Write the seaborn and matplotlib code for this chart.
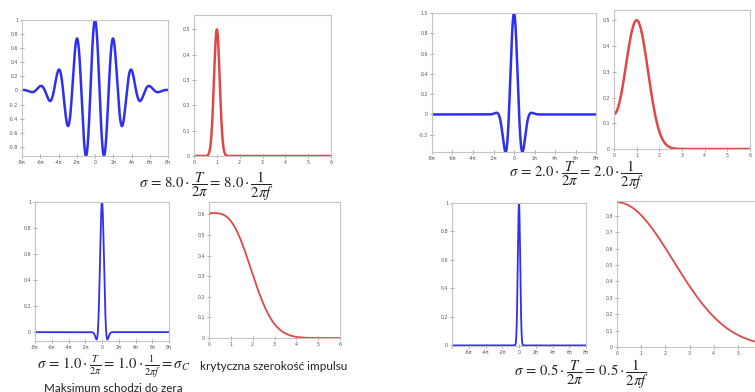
import numpy as np
import matplotlib
matplotlib.use("Agg")
import matplotlib.pyplot as plt
from matplotlib.ticker import FixedLocator, AutoMinorLocator, FixedFormatter
import seaborn as sns

sns.set_style("white")
plt.rcParams["font.family"] = ["DejaVu Sans"]
plt.rcParams["mathtext.fontset"] = "stix"

W, H = 755, 392

# Gaussian-windowed cosine pulses: width parameter of each panel pair
sigmas = [8.0, 2.0, 1.0, 0.5]

# axis boxes in figure pixels (left, top, right, bottom)
time_boxes = [(22, 20, 168, 156), (432, 13, 596, 152), (35, 202, 169, 341), (452, 203, 586, 346)]
freq_boxes = [(194, 15, 331, 156), (614, 10, 750, 149), (209, 202, 340, 338), (617, 201, 762, 347)]

time_ylims = [(-0.93, 1.0), (-0.37, 1.0), (-0.068, 1.0), (-0.004, 1.0)]
freq_ylims = [(0, 0.557), (0, 0.54), (0, 0.66), (0, 0.89)]

time_yticks = [
    [-0.8, -0.6, -0.4, -0.2, 0, 0.2, 0.4, 0.6, 0.8, 1],
    [-0.2, 0, 0.2, 0.4, 0.6, 0.8, 1.0],
    [0, 0.2, 0.4, 0.6, 0.8, 1],
    [0, 0.2, 0.4, 0.6, 0.8, 1],
]
time_ylabels = [
    ["-0.8", "-0.6", "-0.4", "-0.2", "0", "0.2", "0.4", "0.6", "0.8", "1"],
    ["-0.2", "0", "0.2", "0.4", "0.6", "0.8", "1.0"],
    ["0", "0.2", "0.4", "0.6", "0.8", "1"],
    ["0", "0.2", "0.4", "0.6", "0.8", "1"],
]
freq_yticks = [
    [0, 0.1, 0.2, 0.3, 0.4, 0.5],
    [0, 0.1, 0.2, 0.3, 0.4, 0.5],
    [0, 0.1, 0.2, 0.3, 0.4, 0.5, 0.6],
    [0, 0.1, 0.2, 0.3, 0.4, 0.5, 0.6, 0.7, 0.8],
]

time_xmult = [-4, -3, -2, -1, 0, 1, 2, 3, 4]
time_xlabels = ["-8π", "-6π", "-4π", "-2π", "0", "2π", "4π", "6π", "8π"]
freq_xticks = [0, 1, 2, 3, 4, 5, 6]

captions = [
    (r"$\sigma\,=\,8.0\cdot\dfrac{T}{2\pi}=\,8.0\cdot\dfrac{1}{2\pi f}$", 206, 186),
    (r"$\sigma\,=\,2.0\cdot\dfrac{T}{2\pi}=\,2.0\cdot\dfrac{1}{2\pi f}$", 576, 175),
    (r"$\sigma\,=\,0.5\cdot\dfrac{T}{2\pi}=\,0.5\cdot\dfrac{1}{2\pi f}$", 581, 374),
]

BLUE = "#2f2ff0"
RED = "#e04848"
FRAME = "#c4c4c4"
TXT = "#222222"

fig = plt.figure(figsize=(W / 100, H / 100), dpi=100)
fig.patch.set_facecolor("white")


def add_px_axes(box):
    x0, y0, x1, y1 = box
    return fig.add_axes([x0 / W, 1 - y1 / H, (x1 - x0) / W, (y1 - y0) / H])


def style_axes(ax):
    for s in ax.spines.values():
        s.set_color(FRAME)
        s.set_linewidth(0.8)
    ax.tick_params(axis="both", which="major", direction="inout", length=2.5, width=0.5,
                   colors="#888888", labelsize=3.4, labelcolor="#555555", pad=1.5)
    ax.tick_params(axis="both", which="minor", direction="in", length=1.2, width=0.4,
                   colors="#999999")
    ax.tick_params(left=True, bottom=True, top=False, right=False)
    ax.xaxis.set_minor_locator(AutoMinorLocator(4))
    ax.yaxis.set_minor_locator(AutoMinorLocator(4))
    ax.set_xlabel("")
    ax.set_ylabel("")


t = np.linspace(-8 * np.pi, 8 * np.pi, 3000)
w = np.linspace(0, 6, 1500)

for i, sig in enumerate(sigmas):
    lw = 1.8 if i < 2 else 1.3
    # time domain
    ax = add_px_axes(time_boxes[i])
    y = np.cos(t) * np.exp(-t ** 2 / (2 * sig ** 2))
    sns.lineplot(x=t, y=y, ax=ax, color=BLUE, linewidth=lw, estimator=None, sort=False)
    ax.set_xlim(-8 * np.pi, 8 * np.pi)
    ax.set_ylim(*time_ylims[i])
    ax.xaxis.set_major_locator(FixedLocator([2 * np.pi * k for k in time_xmult]))
    xl = list(time_xlabels)
    if i == 3:
        xl[0] = ""
    ax.xaxis.set_major_formatter(FixedFormatter(xl))
    ax.yaxis.set_major_locator(FixedLocator(time_yticks[i]))
    ax.yaxis.set_major_formatter(FixedFormatter(time_ylabels[i]))
    style_axes(ax)

    # frequency domain
    ax2 = add_px_axes(freq_boxes[i])
    F = 0.5 * (np.exp(-sig ** 2 * (w - 1) ** 2 / 2) + np.exp(-sig ** 2 * (w + 1) ** 2 / 2))
    sns.lineplot(x=w, y=F, ax=ax2, color=RED, linewidth=lw, estimator=None, sort=False)
    ax2.set_xlim(0, 6)
    ax2.set_ylim(*freq_ylims[i])
    ax2.xaxis.set_major_locator(FixedLocator(freq_xticks))
    ax2.xaxis.set_major_formatter(FixedFormatter([str(v) for v in freq_xticks]))
    ax2.yaxis.set_major_locator(FixedLocator(freq_yticks[i]))
    ax2.yaxis.set_major_formatter(FixedFormatter(["%g" % v for v in freq_yticks[i]]))
    style_axes(ax2)

for text, cx, cy in captions:
    fig.text(cx / W, 1 - cy / H, text, ha="center", va="center", fontsize=10.6, color=TXT)

fig.text(37 / W, 1 - 366 / H,
         r"$\sigma\,=\,1.0\cdot\frac{T}{2\pi}=\,1.0\cdot\frac{1}{2\pi f}=\sigma_C$",
         ha="left", va="center", fontsize=10.6, color=TXT)
fig.text(200 / W, 1 - 366 / H, "krytyczna szerokość impulsu", ha="left", va="center",
         fontsize=8.5, color=TXT, family=["Lato", "DejaVu Sans"])
fig.text(113 / W, 1 - 389 / H, "Maksimum schodzi do zera", ha="center", va="center",
         fontsize=8.4, color=TXT, family=["Lato", "DejaVu Sans"])

fig.savefig("out.png", dpi=100, facecolor="white")
